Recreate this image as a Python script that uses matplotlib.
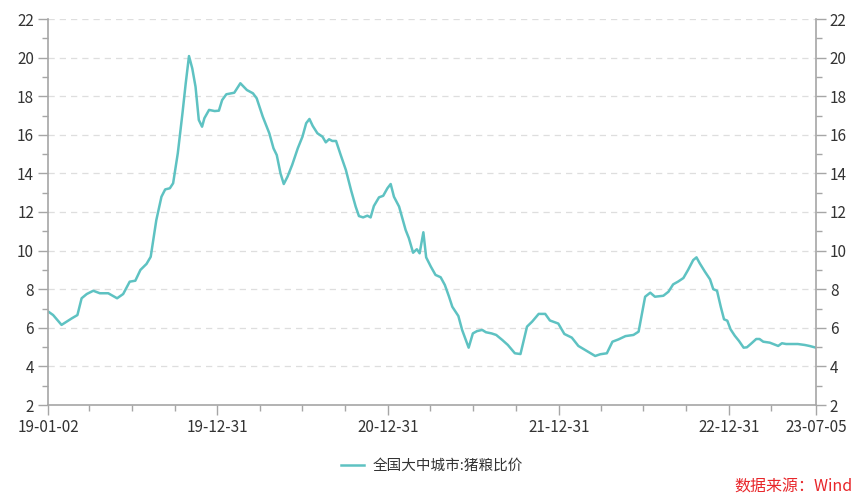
import pandas as pd
import matplotlib
matplotlib.use("Agg")
import matplotlib.pyplot as plt
import matplotlib.ticker as mticker
import matplotlib.dates as mdates

plt.rcParams['font.family'] = ['Noto Sans CJK SC', 'DejaVu Sans']

# 数据
dates = [
    "2019-01-02", "2019-01-13", "2019-01-31", "2019-02-22", "2019-03-06", "2019-03-15",
    "2019-03-26", "2019-04-09", "2019-04-23", "2019-05-11", "2019-05-30", "2019-06-12",
    "2019-06-26", "2019-07-08", "2019-07-19", "2019-08-01", "2019-08-10", "2019-08-22",
    "2019-09-02", "2019-09-10", "2019-09-20", "2019-09-27", "2019-10-07", "2019-10-17",
    "2019-10-24", "2019-10-31", "2019-11-07", "2019-11-14", "2019-11-21", "2019-11-28",
    "2019-12-03", "2019-12-13", "2019-12-25", "2020-01-03", "2020-01-10", "2020-01-19",
    "2020-02-05", "2020-02-18", "2020-03-03", "2020-03-16", "2020-03-24", "2020-04-06",
    "2020-04-20", "2020-04-29", "2020-05-06", "2020-05-14", "2020-05-21", "2020-05-29",
    "2020-06-08", "2020-06-20", "2020-06-30", "2020-07-08", "2020-07-15", "2020-07-22",
    "2020-08-01", "2020-08-12", "2020-08-19", "2020-08-26", "2020-09-02", "2020-09-10",
    "2020-09-20", "2020-10-01", "2020-10-12", "2020-10-22", "2020-10-29", "2020-11-07",
    "2020-11-16", "2020-11-23", "2020-11-30", "2020-12-11", "2020-12-20", "2020-12-29",
    "2021-01-05", "2021-01-12", "2021-01-23", "2021-02-06", "2021-02-13", "2021-02-22",
    "2021-03-02", "2021-03-08", "2021-03-16", "2021-03-22", "2021-04-01", "2021-04-11",
    "2021-04-22", "2021-05-01", "2021-05-10", "2021-05-17", "2021-05-30", "2021-06-07",
    "2021-06-21", "2021-06-30", "2021-07-09", "2021-07-20", "2021-07-28", "2021-08-09",
    "2021-08-19", "2021-09-01", "2021-09-13", "2021-09-28", "2021-10-10", "2021-10-24",
    "2021-11-04", "2021-11-18", "2021-12-02", "2021-12-12", "2021-12-30", "2022-01-12",
    "2022-01-28", "2022-02-11", "2022-03-01", "2022-03-19", "2022-03-30", "2022-04-13",
    "2022-04-25", "2022-05-08", "2022-05-23", "2022-06-09", "2022-06-20", "2022-07-04",
    "2022-07-15", "2022-07-25", "2022-08-12", "2022-08-23", "2022-09-02", "2022-09-13",
    "2022-09-24", "2022-10-04", "2022-10-15", "2022-10-22", "2022-10-29", "2022-11-09",
    "2022-11-20", "2022-11-27", "2022-12-05", "2022-12-13", "2022-12-20", "2022-12-27",
    "2023-01-03", "2023-01-12", "2023-01-21", "2023-01-31", "2023-02-07", "2023-02-17",
    "2023-02-27", "2023-03-06", "2023-03-14", "2023-03-28", "2023-04-15", "2023-04-23",
    "2023-05-02", "2023-05-17", "2023-05-27", "2023-06-11", "2023-06-21", "2023-07-05",
]
values = [
    6.85, 6.66, 6.15, 6.49, 6.66, 7.53,
    7.75, 7.92, 7.79, 7.79, 7.53, 7.75,
    8.39, 8.44, 9.00, 9.31, 9.68, 11.58,
    12.79, 13.17, 13.23, 13.49, 15.04, 17.11,
    18.67, 20.08, 19.44, 18.49, 16.77, 16.42,
    16.86, 17.29, 17.23, 17.25, 17.80, 18.10,
    18.18, 18.67, 18.32, 18.15, 17.89, 16.94,
    16.08, 15.30, 14.95, 14.00, 13.45, 13.83,
    14.44, 15.30, 15.90, 16.60, 16.82, 16.46,
    16.08, 15.90, 15.61, 15.77, 15.68, 15.68,
    14.95, 14.18, 13.14, 12.28, 11.79, 11.72,
    11.81, 11.72, 12.31, 12.76, 12.84, 13.23,
    13.45, 12.79, 12.28, 11.07, 10.64, 9.89,
    10.07, 9.86, 10.95, 9.65, 9.17, 8.74,
    8.62, 8.22, 7.61, 7.09, 6.61, 5.89,
    4.97, 5.71, 5.83, 5.89, 5.77, 5.71,
    5.63, 5.37, 5.11, 4.68, 4.64, 6.06,
    6.32, 6.72, 6.72, 6.38, 6.22, 5.68,
    5.49, 5.06, 4.80, 4.54, 4.63, 4.68,
    5.28, 5.40, 5.57, 5.63, 5.80, 7.61,
    7.82, 7.61, 7.66, 7.87, 8.25, 8.40,
    8.58, 9.00, 9.51, 9.65, 9.34, 8.91,
    8.51, 8.00, 7.92, 7.09, 6.44, 6.37,
    5.92, 5.59, 5.32, 4.97, 4.99, 5.20,
    5.42, 5.42, 5.28, 5.23, 5.06, 5.20,
    5.16, 5.16, 5.16, 5.11, 5.06, 4.97,
]
series_name = "全国大中城市:猪粮比价"

label_dates = ["2019-01-02", "2019-12-31", "2020-12-31", "2021-12-31", "2022-12-31", "2023-07-05"]
label_texts = ["19-01-02", "19-12-31", "20-12-31", "21-12-31", "22-12-31", "23-07-05"]

x = pd.to_datetime(dates)
start, end = pd.Timestamp("2019-01-02"), pd.Timestamp("2023-07-05")
quarter_ticks = pd.date_range("2019-03-31", "2023-03-31", freq="QE")

fig = plt.figure(figsize=(8.59, 5.0), dpi=100)
ax = fig.add_axes([48/859, 1 - 405/500, (816-48)/859, (405-19)/500])

ax.plot(x, values, color="#5ec2c2", linewidth=1.8, label=series_name)

ax.set_xlim(start, end)
ax.set_ylim(2, 22)

# x 轴刻度
ax.xaxis.set_major_locator(mticker.FixedLocator(mdates.date2num(pd.to_datetime(label_dates))))
ax.xaxis.set_major_formatter(mticker.FixedFormatter(label_texts))
ax.xaxis.set_minor_locator(mticker.FixedLocator(mdates.date2num(quarter_ticks)))

# y 轴刻度（左右两侧）
ax.yaxis.set_major_locator(mticker.MultipleLocator(2))
ax.yaxis.set_minor_locator(mticker.MultipleLocator(1))
ax.yaxis.set_major_formatter(mticker.FormatStrFormatter("%d"))

axis_col = "#a6a6a6"
ax.tick_params(axis="both", which="major", length=7, width=1, color=axis_col,
               labelsize=11, labelcolor="#333333", pad=3)
ax.tick_params(axis="both", which="minor", length=4.5, width=1, color=axis_col)
ax.tick_params(axis="y", which="both", left=True, right=True, labelleft=True, labelright=True)

for side in ["left", "right", "bottom"]:
    ax.spines[side].set_color(axis_col)
    ax.spines[side].set_linewidth(1.2)
ax.spines["top"].set_visible(False)

ax.yaxis.grid(True, which="major", linestyle=(0, (5, 4)), color="#dedede", linewidth=0.9)
ax.set_axisbelow(True)

fig.legend(loc="center", bbox_to_anchor=(432/859, 1 - 466/500), frameon=False,
           fontsize=10.5, handlelength=1.6, handletextpad=0.6, labelcolor="#333333")

fig.text(853/859, 1 - 487/500, "数据来源：Wind", color="#e8262a", fontsize=11.5,
         ha="right", va="center")

fig.savefig("out.png", dpi=100)
